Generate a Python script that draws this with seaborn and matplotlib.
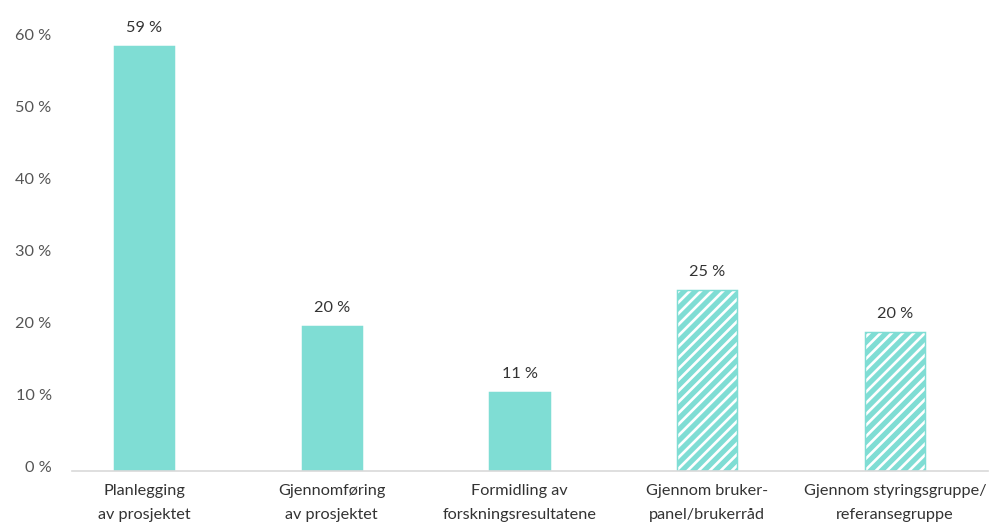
import matplotlib
matplotlib.use("Agg")
import matplotlib.pyplot as plt
import matplotlib.transforms as mtransforms
import seaborn as sns
import pandas as pd

categories = ["Planlegging\nav prosjektet", "Gjennomføring\nav prosjektet",
              "Formidling av\nforskningsresultatene", "Gjennom bruker-\npanel/brukerråd",
              "Gjennom styringsgruppe/\nreferansegruppe"]
values = [59.0, 20.1, 11.0, 25.1, 19.3]
value_labels = ["59 %", "20 %", "11 %", "25 %", "20 %"]
hatched = [False, False, False, True, True]
yticks = [0, 10, 20, 30, 40, 50, 60]
ytick_labels = ["0 %", "10 %", "20 %", "30 %", "40 %", "50 %", "60 %"]

TEAL = "#7FDDD4"
DPI = 133

sns.set_theme(style="white")
plt.rcParams['font.family'] = ['Lato', 'DejaVu Sans']
plt.rcParams['hatch.linewidth'] = 2.8

fig = plt.figure(figsize=(998 / DPI, 525 / DPI), dpi=DPI)
ax = fig.add_axes([72 / 998, 54 / 525, (988 - 72) / 998, (486 - 54) / 525])

df = pd.DataFrame({"cat": categories, "val": values})
sns.barplot(data=df, x="cat", y="val", color=TEAL, saturation=1, width=0.32, ax=ax)

for patch, h in zip(ax.patches, hatched):
    patch.set_edgecolor(TEAL)
    patch.set_linewidth(0.8)
    if h:
        patch.set_facecolor("white")
        patch.set_hatch("////")

ax.bar_label(ax.containers[0], labels=value_labels, padding=6, fontsize=8.8, color="#333333")

ax.set_xlim(-0.3835, 4.495)
ax.set_ylim(0, 60)
ax.set_yticks(yticks)
ax.set_yticklabels(ytick_labels)
ax.set_xticks(range(len(categories)))
ax.set_xticklabels(categories, linespacing=1.95)
ax.set_xlabel("")
ax.set_ylabel("")

for s in ["top", "right", "left"]:
    ax.spines[s].set_visible(False)
ax.spines["bottom"].set_color("#D9D9D9")
ax.spines["bottom"].set_linewidth(0.9)

ax.tick_params(axis="y", length=0, pad=11, labelsize=8.8, labelcolor="#555555")
ax.tick_params(axis="x", length=0, pad=7, labelsize=8.8, labelcolor="#333333")

offset = mtransforms.ScaledTranslation(0, 4 / DPI, fig.dpi_scale_trans)
for lbl in ax.get_yticklabels():
    lbl.set_transform(lbl.get_transform() + offset)

fig.savefig("out.png", dpi=DPI)
